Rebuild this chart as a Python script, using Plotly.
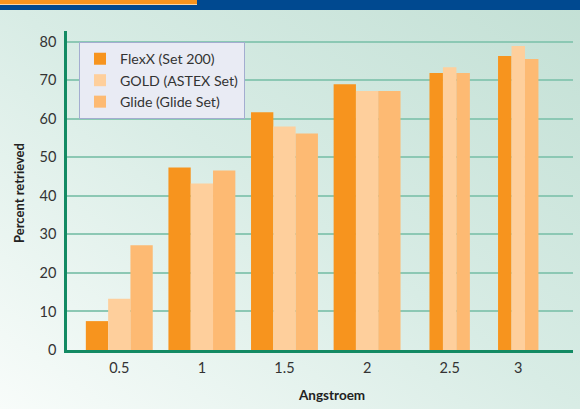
import base64
import plotly.graph_objects as go

# ---- data ----
categories = ["0.5", "1", "1.5", "2", "2.5", "3"]
flexx = [7.5, 47.4, 61.7, 69.0, 71.9, 76.3]
gold = [13.3, 43.2, 58.0, 67.2, 73.4, 78.9]
glide = [27.2, 46.6, 56.2, 67.2, 71.9, 75.5]
series_names = ["FlexX (Set 200)", "GOLD (ASTEX Set)", "Glide (Glide Set)"]
y_ticks = [0, 10, 20, 30, 40, 50, 60, 70, 80]

# ---- layout / style ----
slot_pos = [0, 1, 2, 3, 4, 4.83]          # horizontal slots of the groups
bar_w = [0.27, 0.27, 0.27, 0.27, 0.163, 0.163]
colors = ["#F7941E", "#FECF9C", "#FDBA73"]

W, H = 580, 409
L, R, T, B = 67, 7, 31, 59
PW, PH = W - L - R, H - T - B


def px_x(p):
    return (p - L) / PW


def px_y(p):
    return (H - B - p) / PH


fig = go.Figure()
for k, (name, vals) in enumerate(zip(series_names, [flexx, gold, glide])):
    fig.add_trace(go.Bar(
        x=slot_pos, y=vals, name=name,
        width=bar_w,
        offset=[(k - 1.5) * w for w in bar_w],
        marker=dict(color=colors[k], line=dict(width=0)),
    ))

svg = (
    '<svg xmlns="http://www.w3.org/2000/svg" width="580" height="409">'
    '<defs><linearGradient id="g" x1="0" y1="1" x2="1" y2="0">'
    '<stop offset="0" stop-color="#f8fcfa"/>'
    '<stop offset="0.5" stop-color="#d8ece5"/>'
    '<stop offset="1" stop-color="#c3e0d5"/>'
    '</linearGradient></defs>'
    '<rect width="580" height="409" fill="url(#g)"/></svg>'
)
src = "data:image/svg+xml;base64," + base64.b64encode(svg.encode()).decode()

font = "Lato, 'Open Sans', sans-serif"
fig.update_layout(
    width=W, height=H,
    margin=dict(l=L, r=R, t=T, b=B, pad=0),
    barmode="overlay",
    paper_bgcolor="#d8ece5",
    plot_bgcolor="rgba(0,0,0,0)",
    font=dict(family=font, size=14.5, color="#333333"),
    showlegend=True,
    legend=dict(
        x=px_x(79), y=px_y(42), xanchor="left", yanchor="top",
        bgcolor="#e9ebf4", bordercolor="#a3add0", borderwidth=1,
        font=dict(family=font, size=14.2, color="#333333"),
        traceorder="normal",
    ),
    xaxis=dict(
        range=[-0.633, 5.493],
        tickvals=slot_pos, ticktext=categories,
        showgrid=False, zeroline=False,
        showline=True, linecolor="#138a63", linewidth=3,
        ticks="", ticklen=0, ticklabelstandoff=3,
        tickfont=dict(size=14.5),
    ),
    yaxis=dict(
        range=[0, 82.8],
        tickvals=y_ticks,
        showgrid=True, gridcolor="#8cc8b4", gridwidth=1.5,
        zeroline=False,
        showline=True, linecolor="#138a63", linewidth=2.5,
        ticks="", ticklen=0, ticklabelstandoff=5,
        tickfont=dict(size=14.5),
    ),
    images=[dict(
        source=src, xref="paper", yref="paper",
        x=px_x(0), y=px_y(0), sizex=W / PW, sizey=H / PH,
        xanchor="left", yanchor="top", sizing="stretch", layer="below",
    )],
    shapes=[
        dict(type="rect", xref="paper", yref="paper",
             x0=px_x(0), x1=px_x(W), y0=px_y(10), y1=px_y(0),
             fillcolor="#004990", line=dict(width=0), layer="above"),
        dict(type="rect", xref="paper", yref="paper",
             x0=px_x(0), x1=px_x(197), y0=px_y(5), y1=px_y(0),
             fillcolor="#fbd6a4", line=dict(width=0), layer="above"),
        dict(type="rect", xref="paper", yref="paper",
             x0=px_x(0), x1=px_x(197), y0=px_y(4), y1=px_y(0),
             fillcolor="#F7941E", line=dict(width=0), layer="above"),
    ],
    annotations=[
        dict(text="<b>Angstroem</b>", xref="paper", yref="paper",
             x=px_x(331), y=px_y(395), xanchor="center", yanchor="middle",
             showarrow=False,
             font=dict(family=font, size=13.5, color="#222222")),
        dict(text="<b>Percent retrieved</b>", xref="paper", yref="paper",
             x=px_x(19), y=px_y(193), xanchor="center", yanchor="middle",
             showarrow=False, textangle=-90,
             font=dict(family=font, size=13, color="#222222")),
    ],
)

fig.write_html("out.html")
